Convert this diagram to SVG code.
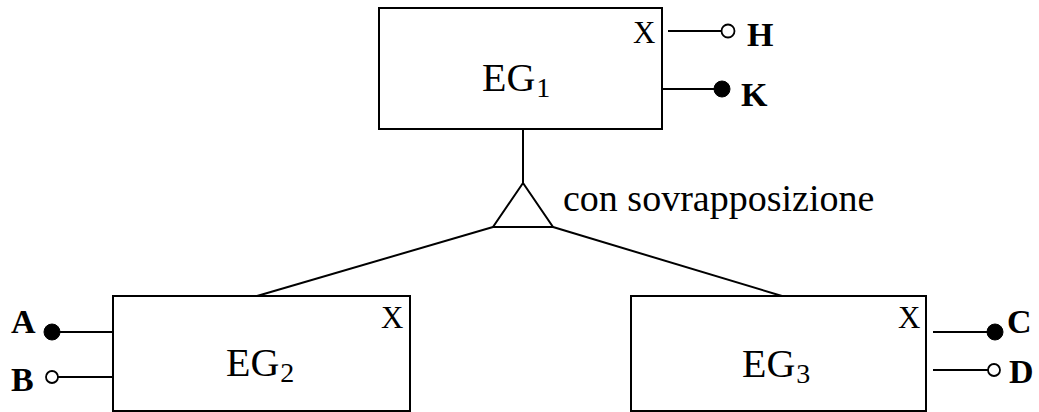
<svg xmlns="http://www.w3.org/2000/svg" width="1039" height="412" viewBox="0 0 1039 412">
<style>
.box{fill:#fff;stroke:#000;stroke-width:2}
.ln{fill:none;stroke:#000;stroke-width:2}
.open{fill:#fff;stroke:#000;stroke-width:1.8}
.full{fill:#000;stroke:#000;stroke-width:1}
.t{font-family:"Liberation Serif","Times New Roman",serif;fill:#000}
.name{font-size:40px}
.sub{font-size:28px}
.x{font-size:31px}
.b{font-size:34px;font-weight:bold}
.lbl{font-size:38px}
</style>
<rect width="1039" height="412" fill="#fff"/>
<g id="connectors">
<line class="ln" x1="523" y1="129" x2="523" y2="183"/>
<polygon class="ln" points="523,183 493,227 553,227"/>
<line class="ln" x1="493" y1="227" x2="257" y2="296"/>
<line class="ln" x1="553" y1="227" x2="782" y2="296"/>
</g>
<g id="EG1">
<rect class="box" x="379" y="8" width="283" height="121"/>
<text class="t name" x="482" y="91">EG<tspan class="sub" dx="1" dy="6">1</tspan></text>
<text class="t x" x="633" y="43">X</text>
</g>
<g id="EG2">
<rect class="box" x="113" y="296" width="297" height="115"/>
<text class="t name" x="226" y="376">EG<tspan class="sub" dx="1" dy="6">2</tspan></text>
<text class="t x" x="381" y="328">X</text>
</g>
<g id="EG3">
<rect class="box" x="631" y="296" width="295" height="115"/>
<text class="t name" x="742" y="377">EG<tspan class="sub" dx="1" dy="6">3</tspan></text>
<text class="t x" x="898" y="328">X</text>
</g>
<g id="ISA">
<text class="t lbl" x="563" y="211">con sovrapposizione</text>
</g>
<g id="attr-H">
<line class="ln" x1="668" y1="31" x2="722" y2="31"/>
<circle class="open" cx="728" cy="31" r="6.5"/>
<text class="t b" x="747" y="46">H</text>
</g>
<g id="attr-K">
<line class="ln" x1="662" y1="89" x2="716" y2="89"/>
<circle class="full" cx="722" cy="89" r="8"/>
<text class="t b" x="741" y="106">K</text>
</g>
<g id="attr-A">
<line class="ln" x1="58" y1="332" x2="113" y2="332"/>
<circle class="full" cx="52" cy="332" r="8"/>
<text class="t b" x="11" y="333">A</text>
</g>
<g id="attr-B">
<line class="ln" x1="58" y1="377" x2="113" y2="377"/>
<circle class="open" cx="52" cy="377" r="6"/>
<text class="t b" x="11" y="391">B</text>
</g>
<g id="attr-C">
<line class="ln" x1="933" y1="332" x2="989" y2="332"/>
<circle class="full" cx="995" cy="332" r="8"/>
<text class="t b" x="1007" y="333">C</text>
</g>
<g id="attr-D">
<line class="ln" x1="933" y1="370" x2="988" y2="370"/>
<circle class="open" cx="994" cy="370" r="6"/>
<text class="t b" x="1009" y="383">D</text>
</g>
</svg>
